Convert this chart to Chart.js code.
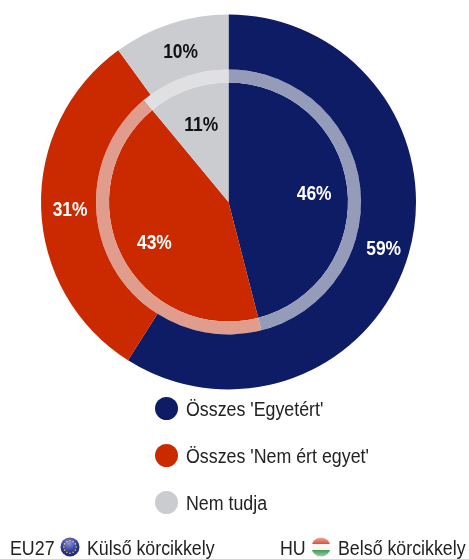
<!DOCTYPE html>
<html lang="hu">
<head>
<meta charset="utf-8">
<style>
  html, body { margin: 0; padding: 0; background: #fff; }
  #wrap { position: relative; width: 469px; height: 559px; overflow: hidden; font-family: "Liberation Sans", Arial, sans-serif; color: #222; }
  #pie { position: absolute; left: 0; top: 0; }
  .dot { position: absolute; width: 23px; height: 23px; border-radius: 50%; left: 155px; }
  .txt { position: absolute; font-size: 20px; line-height: 22px; white-space: nowrap; transform-origin: left center; transform: scaleX(0.89); }
  .flag { position: absolute; top: 537px; }
</style>
</head>
<body>
<div id="wrap">
  <canvas id="pie" width="469" height="559"></canvas>
  <div id="legend"></div>
  <span class="txt" style="left:10px;top:537px">EU27</span>
  <svg class="flag" style="left:60px" width="20" height="20" viewBox="0 0 20 20" id="euFlag">
    <defs><radialGradient id="euGrad" cx="45%" cy="30%" r="75%"><stop offset="0" stop-color="#8d94dc"/><stop offset="0.6" stop-color="#2b3596"/><stop offset="1" stop-color="#1c2468"/></radialGradient></defs>
    <circle cx="10" cy="10" r="9.5" fill="url(#euGrad)"/>
  </svg>
  <span class="txt" style="left:87px;top:537px">Külső körcikkely</span>
  <span class="txt" style="left:280px;top:537px">HU</span>
  <svg class="flag" style="left:311px" width="20" height="20" viewBox="0 0 20 20">
    <defs>
      <clipPath id="huClip"><circle cx="10" cy="10" r="9.5"/></clipPath>
      <linearGradient id="huRed" x1="0" y1="0" x2="0" y2="1"><stop offset="0" stop-color="#f0b0a4"/><stop offset="1" stop-color="#d9503c"/></linearGradient>
      <linearGradient id="huGreen" x1="0" y1="0" x2="0" y2="1"><stop offset="0" stop-color="#3f9a55"/><stop offset="1" stop-color="#a5d2ae"/></linearGradient>
    </defs>
    <g clip-path="url(#huClip)">
      <rect width="20" height="7" fill="url(#huRed)"/>
      <rect y="7" width="20" height="6" fill="#f6f6f2"/>
      <rect y="13" width="20" height="7" fill="url(#huGreen)"/>
    </g>
  </svg>
  <span class="txt" style="left:338px;top:537px">Belső körcikkely</span>
</div>
<script src="https://cdn.jsdelivr.net/npm/chart.js@4/dist/chart.umd.min.js"></script>
<script>
const categories = ["Összes 'Egyetért'", "Összes 'Nem ért egyet'", "Nem tudja"];
const outerValues = [59, 31, 10]; // EU27
const innerValues = [46, 43, 11]; // HU
const colors = ['#0e1c66', '#cb2a00', '#cbcccf'];
const ringColors = ['#959cb9', '#e09c8c', '#e0e0e2'];
const labelColors = ['#ffffff', '#ffffff', '#111111'];

// Legend rows, built from the categories
const legendTops = [397, 444, 491];
const legendBox = document.getElementById('legend');
categories.forEach((name, i) => {
    const dot = document.createElement('div');
    dot.className = 'dot';
    dot.style.top = legendTops[i] + 'px';
    dot.style.background = colors[i];
    legendBox.appendChild(dot);
    const txt = document.createElement('span');
    txt.className = 'txt';
    txt.style.left = '186px';
    txt.style.top = (legendTops[i] + 1) + 'px';
    txt.textContent = name;
    legendBox.appendChild(txt);
});

// Stars of the EU flag
const euFlag = document.getElementById('euFlag');
for (let i = 0; i < 12; i++) {
    const a = i / 12 * Math.PI * 2;
    const star = document.createElementNS('http://www.w3.org/2000/svg', 'circle');
    star.setAttribute('cx', 10 + Math.cos(a) * 6.2);
    star.setAttribute('cy', 10 + Math.sin(a) * 6.2);
    star.setAttribute('r', 0.8);
    star.setAttribute('fill', '#d8cf5a');
    euFlag.appendChild(star);
}

// Percent labels on top of the slices
const sliceLabels = {
    id: 'sliceLabels',
    afterDatasetsDraw(chart) {
        const ctx = chart.ctx;
        [[0, outerValues], [2, innerValues]].forEach(([dsIndex, values]) => {
            chart.getDatasetMeta(dsIndex).data.forEach((arc, i) => {
                const p = arc.getProps(['x', 'y', 'startAngle', 'endAngle', 'innerRadius', 'outerRadius'], true);
                const mid = (p.startAngle + p.endAngle) / 2;
                const r = dsIndex === 0 ? (p.innerRadius + p.outerRadius) / 2 : p.outerRadius * 0.71;
                ctx.save();
                ctx.translate(p.x + Math.cos(mid) * r + 1.5, p.y + Math.sin(mid) * r);
                ctx.scale(0.87, 1);
                ctx.font = 'bold 20px "Liberation Sans", Arial, sans-serif';
                ctx.textAlign = 'center';
                ctx.textBaseline = 'middle';
                ctx.fillStyle = labelColors[i];
                ctx.fillText(values[i] + '%', 0, 3);
                ctx.restore();
            });
        });
    }
};

new Chart(document.getElementById('pie'), {
    type: 'doughnut',
    data: {
        labels: categories,
        datasets: [
            { label: 'EU27', data: outerValues, backgroundColor: colors, borderWidth: 0, weight: 55 },
            { label: 'HU ring', data: innerValues, backgroundColor: ringColors, borderWidth: 0, weight: 13 },
            { label: 'HU', data: innerValues, backgroundColor: colors, borderWidth: 0, weight: 119.5 }
        ]
    },
    options: {
        responsive: false,
        animation: false,
        cutout: 0,
        layout: { padding: { left: 41, top: 14.5, right: 53, bottom: 169.5 } },
        plugins: { legend: { display: false }, tooltip: { enabled: false } }
    },
    plugins: [sliceLabels]
});
</script>
</body>
</html>
